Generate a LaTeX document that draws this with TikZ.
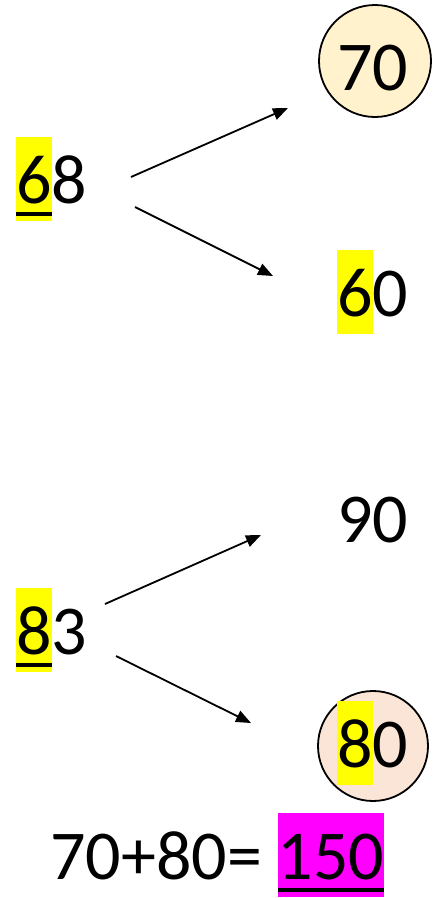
\documentclass[tikz,border=0pt]{standalone}
\usepackage{fontspec}
\setmainfont{Carlito}
\usetikzlibrary{arrows.meta}

\definecolor{hlyellow}{HTML}{FFFF00}
\definecolor{hlmagenta}{HTML}{FF00FF}
\definecolor{cream}{HTML}{FFF2CC}
\definecolor{peach}{HTML}{FBE5D6}

% highlighted digits, optionally underlined
\newcommand{\hldig}[2]{{\setlength{\fboxsep}{0pt}\colorbox{#1}{\rule[-18pt]{0pt}{84pt}#2}}}
\newcommand{\hlund}[2]{{\setlength{\fboxsep}{0pt}\setbox0\hbox{#2}%
  \colorbox{#1}{\rule[-18pt]{0pt}{84pt}\rlap{\rule[-13pt]{\wd0}{4.5pt}}\box0}}}

\tikzset{
  num/.style={anchor=base west, inner sep=0pt, font=\fontsize{70}{84}\selectfont},
  ring/.style={circle, draw, line width=1.8pt, minimum size=#1, inner sep=0pt},
  arr/.style={line width=1.8pt, -{Triangle[length=15pt,width=12pt]}}
}

\begin{document}
\begin{tikzpicture}[x=1pt,y=-1pt]
        \useasboundingbox (0,0) rectangle (438,898);

        % First number: 68
        \node[num] (n68) at (16,203) {\hlund{hlyellow}{6}8};
        \node[ring=112pt, fill=cream] (c70) at (375,61) {};
        \node[num] (n70) at (337,90) {70};
        \node[num] (n60) at (337,316) {\hldig{hlyellow}{6}0};

        \coordinate (s1) at (131,177);
        \coordinate (e1) at (288,108);
        \coordinate (s2) at (135,207);
        \coordinate (e2) at (273,276);
        \draw[arr] (s1) -- (e1);
        \draw[arr] (s2) -- (e2);

        % Second number: 83
        \node[num] (n83) at (16,654) {\hlund{hlyellow}{8}3};
        \node[num] (n90) at (337,542) {90};
        \node[ring=110pt, fill=peach] (c80) at (373,746) {};
        \node[num] (n80) at (337,767) {\hldig{hlyellow}{8}0};

        \coordinate (s3) at (105,604);
        \coordinate (e3) at (261,535);
        \coordinate (s4) at (116,656);
        \coordinate (e4) at (251,723);
        \draw[arr] (s3) -- (e3);
        \draw[arr] (s4) -- (e4);

        % Sum
        \node[num] (sum) at (50,879) {70+80= \hlund{hlmagenta}{150}};
\end{tikzpicture}
\end{document}
